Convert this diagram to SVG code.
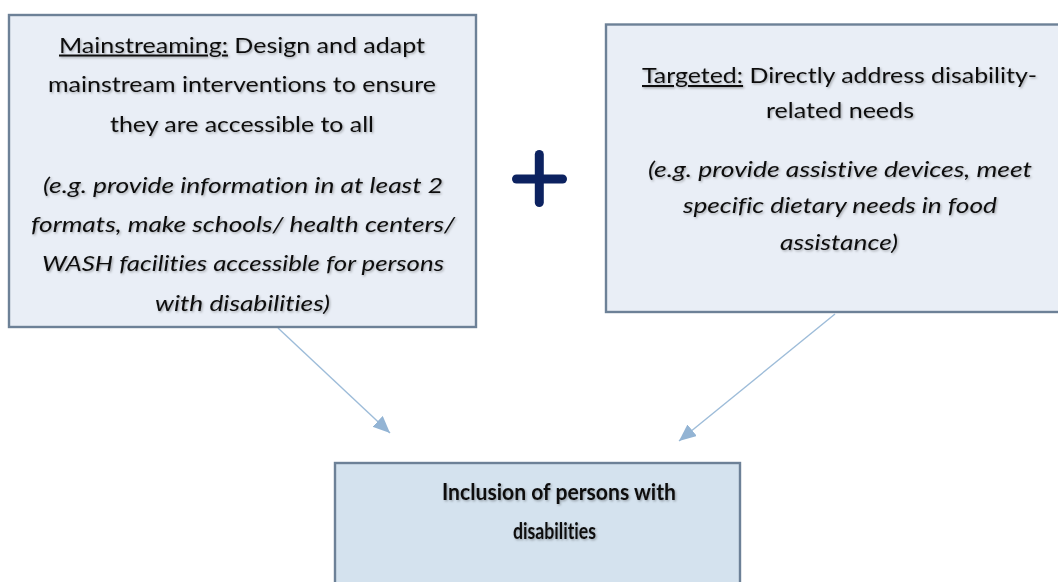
<svg xmlns="http://www.w3.org/2000/svg" width="1058" height="582" viewBox="0 0 1058 582">
  <style>
    .box { stroke: #6d8197; stroke-width: 2.4; }
    .light { fill: #e9eef6; }
    .mid { fill: #d4e2ee; }
    .t { font-family: Lato, "Open Sans", sans-serif; font-size: 20.5px; fill: #111; text-anchor: middle; font-variant-ligatures: none; filter: url(#soft); }
    .it { font-style: italic; }
    .b { font-weight: bold; font-size: 22px; }
    .u { text-decoration: underline; }
    .link { stroke: #9dbcd9; stroke-width: 1.4; fill: none; marker-end: url(#head); }
  </style>
  <defs>
    <filter id="soft" x="-5%" y="-30%" width="110%" height="160%">
      <feDropShadow dx="1.2" dy="1.3" stdDeviation="0.8" flood-color="#000" flood-opacity="0.3"/>
    </filter>
    <marker id="head" markerUnits="userSpaceOnUse" markerWidth="18" markerHeight="16" refX="17" refY="7.5" orient="auto">
      <path d="M0,0 L17,7.5 L0,15 Z" fill="#93b4d4"/>
    </marker>
  </defs>

  <g id="connectors">
    <line class="link" x1="278" y1="328" x2="390" y2="433"/>
    <line class="link" x1="835" y1="314" x2="679" y2="441"/>
  </g>

  <g id="mainstreaming">
    <rect class="box light" x="9" y="15" width="467" height="312"/>
    <text class="t" x="242" y="52.5" textLength="366" lengthAdjust="spacingAndGlyphs"><tspan class="u">Mainstreaming:</tspan> Design and adapt</text>
    <text class="t" x="242" y="92" textLength="388" lengthAdjust="spacingAndGlyphs">mainstream interventions to ensure</text>
    <text class="t" x="242" y="131.5" textLength="264" lengthAdjust="spacingAndGlyphs">they are accessible to all</text>
    <text class="t it" x="243" y="192.5" textLength="400" lengthAdjust="spacingAndGlyphs">(e.g. provide information in at least 2</text>
    <text class="t it" x="243" y="231.5" textLength="424" lengthAdjust="spacingAndGlyphs">formats, make schools/ health centers/</text>
    <text class="t it" x="243" y="271" textLength="402" lengthAdjust="spacingAndGlyphs">WASH facilities accessible for persons</text>
    <text class="t it" x="242.5" y="310.5" textLength="175" lengthAdjust="spacingAndGlyphs">with disabilities)</text>
  </g>

  <g id="plus">
    <line x1="539.3" y1="154.5" x2="539.3" y2="202.5" stroke="#0c2260" stroke-width="9" stroke-linecap="round"/>
    <line x1="516.5" y1="179" x2="562.5" y2="179" stroke="#0c2260" stroke-width="9" stroke-linecap="round"/>
  </g>

  <g id="targeted">
    <rect class="box light" x="606" y="24.5" width="460" height="287.5"/>
    <text class="t" x="839.5" y="83" textLength="395" lengthAdjust="spacingAndGlyphs"><tspan class="u">Targeted:</tspan> Directly address disability-</text>
    <text class="t" x="840" y="118" textLength="148" lengthAdjust="spacingAndGlyphs">related needs</text>
    <text class="t it" x="840" y="177" textLength="384" lengthAdjust="spacingAndGlyphs">(e.g. provide assistive devices, meet</text>
    <text class="t it" x="840" y="213" textLength="314" lengthAdjust="spacingAndGlyphs">specific dietary needs in food</text>
    <text class="t it" x="839" y="249.5" textLength="118" lengthAdjust="spacingAndGlyphs">assistance)</text>
  </g>

  <g id="inclusion">
    <rect class="box mid" x="335" y="463" width="405" height="140"/>
    <text class="t b" x="559" y="500" textLength="234" lengthAdjust="spacingAndGlyphs">Inclusion of persons with</text>
    <text class="t b" x="554.5" y="538.5" textLength="83" lengthAdjust="spacingAndGlyphs">disabilities</text>
  </g>
</svg>
